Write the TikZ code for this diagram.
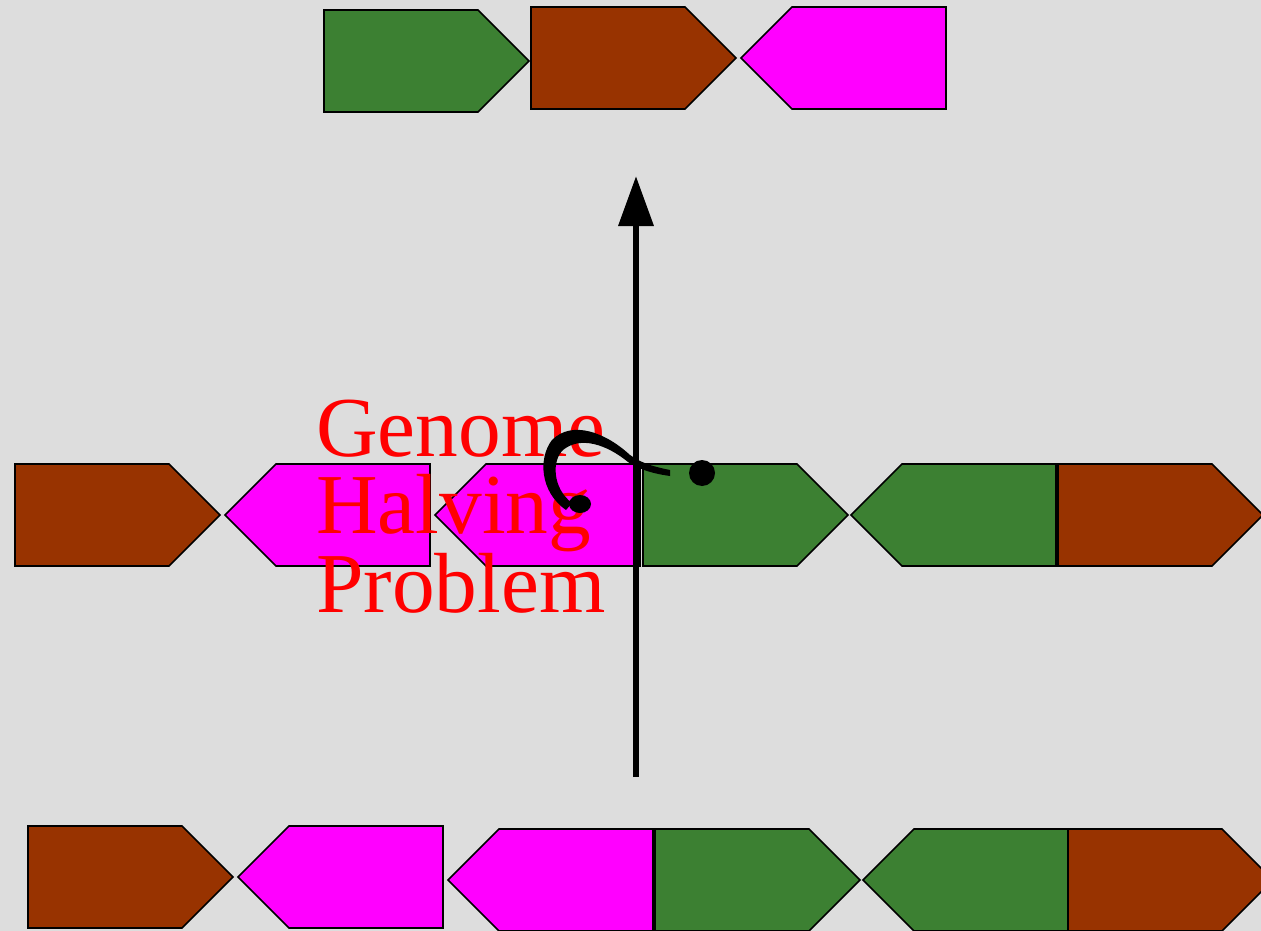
\documentclass[tikz,border=0pt]{standalone}
\usepackage{fontspec}
\setmainfont{Liberation Serif}
\usetikzlibrary{arrows.meta}
\definecolor{bg}{HTML}{DDDDDD}
\definecolor{ggreen}{HTML}{3C8032}
\definecolor{gbrown}{HTML}{983300}
\definecolor{gmag}{HTML}{FF00FF}
\tikzset{gene/.style={draw=black,line width=1.3pt,line join=miter}}
% right-pointing gene: left x, top y, colour
\newcommand{\geneR}[3]{\filldraw[gene,fill=#3] (#1,#2) -- ++(154,0) -- ++(51,51) -- ++(-51,51) -- ++(-154,0) -- cycle;}
\newcommand{\geneL}[3]{\filldraw[gene,fill=#3] (#1,#2+51) -- ++(51,-51) -- ++(154,0) -- ++(0,102) -- ++(-154,0) -- cycle;}
\begin{document}
\begin{tikzpicture}[x=0.75pt,y=-0.75pt]
\fill[bg] (0,0) rectangle (1261,931);
\useasboundingbox (0,0) rectangle (1261,931);
% top row
\geneR{324}{10}{ggreen}
\geneR{531}{7}{gbrown}
\geneL{741}{7}{gmag}
% middle row
\geneR{15}{464}{gbrown}
\geneL{225}{464}{gmag}
\geneL{435}{464}{gmag}
\geneR{643}{464}{ggreen}
\geneL{851}{464}{ggreen}
\geneR{1058}{464}{gbrown}
% bottom row
\geneR{28}{826}{gbrown}
\geneL{238}{826}{gmag}
\geneL{448}{829}{gmag}
\geneR{655}{829}{ggreen}
\geneL{863}{829}{ggreen}
\geneR{1068}{829}{gbrown}
% title
\node[anchor=base west,text=red,font=\fontsize{64pt}{57.75pt}\selectfont,align=left,inner sep=0pt] (title) at (316,612) {Genome\\Halving\\Problem};
% main arrow
\coordinate (from) at (636,777);
\coordinate (to) at (636,176);
\draw[line width=5pt,-{Triangle[length=37.5pt,width=25.5pt]}] (from) -- (to);
% reversal curl
\fill[black] (670,470) .. controls (650,466) and (640,462) .. (630,455)
  .. controls (605,432) and (572,420) .. (552,440)
  .. controls (538,458) and (540,492) .. (566,510)
  -- (572,503)
  .. controls (552,488) and (552,460) .. (563,450)
  .. controls (580,436) and (606,444) .. (628,462)
  .. controls (640,470) and (655,474) .. (670,476) -- cycle;
\fill[black] (580,504) ellipse[x radius=11,y radius=9];
\fill[black] (702,473) circle[radius=13];
\end{tikzpicture}
\end{document}
